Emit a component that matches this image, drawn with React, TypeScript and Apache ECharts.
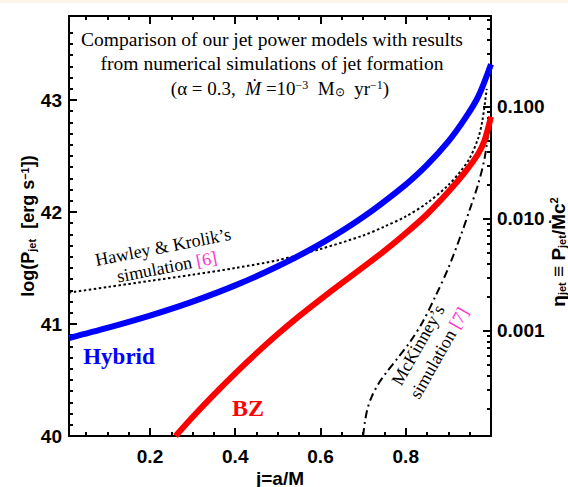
import React, { useEffect, useRef } from "react";
import * as echarts from "echarts";

// ---- axis ranges ----
const X_MIN = 0.01;
const X_MAX = 1.0;
const Y_MIN = 40;
const Y_MAX = 43.75;
const ETA_OFFSET = 43.94; // log(eta) = log(Pjet) - ETA_OFFSET

// ---- tick values ----
const xMajorTicks = [0.2, 0.4, 0.6, 0.8];
const xMinorTicks = [0.05, 0.1, 0.15, 0.25, 0.3, 0.35, 0.45, 0.5, 0.55, 0.65, 0.7, 0.75, 0.85, 0.9, 0.95];
const yMajorTicks = [40, 41, 42, 43];
const etaMajorTicks = [0.001, 0.01, 0.1];
const etaMinorMultipliers = [2, 3, 4, 5, 6, 7, 8, 9];
const etaDecades = [0.0001, 0.001, 0.01, 0.1];

// ---- series data (spin j, log Pjet) ----
const hybridJ = [0.01, 0.1, 0.2, 0.3, 0.4, 0.5, 0.6, 0.7, 0.8, 0.85, 0.9, 0.94, 0.97, 1.0];
const hybridLogP = [40.875, 40.965, 41.075, 41.2, 41.345, 41.515, 41.715, 41.955, 42.245, 42.42, 42.63, 42.84, 43.03, 43.32];

const bzJ = [0.26, 0.3, 0.35, 0.4, 0.45, 0.5, 0.55, 0.6, 0.65, 0.7, 0.75, 0.8, 0.85, 0.9, 0.94, 0.97, 0.985, 1.0];
const bzLogP = [40.0, 40.17, 40.37, 40.56, 40.74, 40.91, 41.07, 41.22, 41.365, 41.508, 41.653, 41.81, 41.98, 42.18, 42.36, 42.52, 42.64, 42.85];

const hkJ = [0.01, 0.1, 0.2, 0.3, 0.4, 0.5, 0.6, 0.7, 0.75, 0.8, 0.85, 0.9, 0.93, 0.95, 0.97, 0.98, 0.99];
const hkLogP = [41.28, 41.33, 41.385, 41.44, 41.5, 41.57, 41.67, 41.79, 41.87, 41.96, 42.08, 42.24, 42.37, 42.48, 42.66, 42.82, 43.1];

const mcJ = [0.7, 0.704, 0.71, 0.72, 0.735, 0.755, 0.78, 0.81, 0.84, 0.87, 0.9, 0.93, 0.95, 0.97, 0.985, 0.995];
const mcLogP = [40.0, 40.12, 40.24, 40.35, 40.46, 40.57, 40.69, 40.84, 41.02, 41.25, 41.5, 41.8, 42.02, 42.25, 42.48, 42.75];

const zip = (xs: number[], ys: number[]) => xs.map((x, i) => [x, ys[i]]);

const yMinorTicks: number[] = [];
for (let v = 401; v < 437; v++) {
  if (v % 10 !== 0) yMinorTicks.push(v / 10);
}
const etaToLogP = (e: number) => Math.log10(e) + ETA_OFFSET;
const etaMinorTicks: number[] = [];
etaDecades.forEach((d) =>
  etaMinorMultipliers.forEach((m) => {
    const v = etaToLogP(d * m);
    if (v > Y_MIN && v < Y_MAX) etaMinorTicks.push(v);
  })
);

const SANS = "Liberation Sans, Arial, sans-serif";
const SERIF = "Liberation Serif, Times New Roman, serif";
const BLACK = "#000";

function xAxisDef(position: "bottom" | "top", major: boolean) {
  return {
    type: "value",
    position,
    min: X_MIN,
    max: X_MAX,
    axisLine: { show: major, onZero: false, lineStyle: { color: BLACK, width: 2 } },
    axisTick: {
      show: true,
      inside: true,
      length: major ? 8 : 4,
      lineStyle: { color: BLACK, width: 2 },
      customValues: major ? xMajorTicks : xMinorTicks,
    },
    axisLabel: {
      show: major && position === "bottom",
      customValues: xMajorTicks,
      formatter: (v: number) => v.toFixed(1),
      fontSize: 19,
      fontWeight: "bold",
      fontFamily: SANS,
      color: BLACK,
      margin: 11,
    },
    splitLine: { show: false },
  };
}

function yAxisDef(position: "left" | "right", major: boolean) {
  const isLeft = position === "left";
  const ticks = isLeft
    ? major
      ? yMajorTicks
      : yMinorTicks
    : major
    ? etaMajorTicks.map(etaToLogP)
    : etaMinorTicks;
  return {
    type: "value",
    position,
    min: Y_MIN,
    max: Y_MAX,
    axisLine: { show: major, onZero: false, lineStyle: { color: BLACK, width: 2 } },
    axisTick: {
      show: true,
      inside: true,
      length: major ? 8 : 4,
      lineStyle: { color: BLACK, width: 2 },
      customValues: ticks,
    },
    axisLabel: {
      show: major,
      customValues: ticks,
      formatter: isLeft
        ? (v: number) => String(Math.round(v))
        : (v: number) => Math.pow(10, v - ETA_OFFSET).toFixed(3),
      fontSize: 19,
      fontWeight: "bold",
      fontFamily: SANS,
      color: BLACK,
      margin: isLeft ? 7 : 6,
    },
    splitLine: { show: false },
  };
}

function text(
  x: number,
  y: number,
  str: string,
  opts: { size: number; family: string; weight?: string; fill?: string; rotation?: number; rich?: any }
) {
  return {
    type: "text",
    x,
    y,
    rotation: opts.rotation || 0,
    z: 100,
    style: {
      text: str,
      fontSize: opts.size,
      fontFamily: opts.family,
      fontWeight: opts.weight || "normal",
      fill: opts.fill || BLACK,
      align: "center",
      verticalAlign: "middle",
      textAlign: "center",
      textVerticalAlign: "middle",
      rich: opts.rich,
    },
  };
}

export default function App() {
  const ref = useRef<HTMLDivElement>(null);

  useEffect(() => {
    if (!ref.current) return;
    const chart = echarts.init(ref.current, null, { renderer: "svg" });

    const serifRich = {
      i: { fontSize: 19, fontFamily: SERIF, fontStyle: "italic", fill: BLACK },
      sup: { fontSize: 12, fontFamily: SERIF, fill: BLACK, verticalAlign: "top" },
      sub: { fontSize: 12, fontFamily: SERIF, fill: BLACK, verticalAlign: "bottom" },
    };
    const magentaRich = { m: { fontSize: 18, fontFamily: SERIF, fill: "#ff33cc" } };
    const sansRich = {
      sub: { fontSize: 11, fontFamily: SANS, fontWeight: "bold", fill: BLACK, verticalAlign: "bottom" },
      sup: { fontSize: 11, fontFamily: SANS, fontWeight: "bold", fill: BLACK, verticalAlign: "top" },
    };

    const lineSeries = (name: string, xs: number[], ys: number[], lineStyle: any, z: number) => ({
      type: "line",
      name,
      data: zip(xs, ys),
      showSymbol: false,
      smooth: 0.3,
      lineStyle,
      z,
    });

    chart.setOption({
      animation: false,
      backgroundColor: "#ffffff",
      grid: { left: 69, right: 77, top: 16, bottom: 51, outerBoundsMode: "none", containLabel: false },
      xAxis: [xAxisDef("bottom", true), xAxisDef("bottom", false), xAxisDef("top", true), xAxisDef("top", false)],
      yAxis: [yAxisDef("left", true), yAxisDef("left", false), yAxisDef("right", true), yAxisDef("right", false)],
      series: [
        lineSeries("Hybrid", hybridJ, hybridLogP, { color: "#0000ff", width: 6 }, 5),
        lineSeries("BZ", bzJ, bzLogP, { color: "#ff0000", width: 6 }, 5),
        lineSeries("Hawley & Krolik", hkJ, hkLogP, { color: BLACK, width: 2, type: [2.5, 2.5] }, 4),
        lineSeries("McKinney", mcJ, mcLogP, { color: BLACK, width: 2, type: [8, 4, 2, 4] }, 4),
      ],
      graphic: [
        { type: "rect", shape: { x: 0, y: 0, width: 568, height: 3 }, style: { fill: "#fdf5ec" }, z: 0 },
        text(272, 39, "Comparison of our jet power models with results", { size: 19.5, family: SERIF }),
        text(272, 63, "from numerical simulations of jet formation", { size: 19.5, family: SERIF }),
        text(280, 88, "(α = 0.3,  {i|Ṁ} =10{sup|−3}  M{sub|⊙}  yr{sup|−1})", {
          size: 19,
          family: SERIF,
          rich: serifRich,
        }),
        text(163, 247, "Hawley & Krolik’s", { size: 18, family: SERIF, rotation: 0.192 }),
        text(167, 267, "simulation {m|[6]}", { size: 18, family: SERIF, rotation: 0.192, rich: magentaRich }),
        text(418, 345, "McKinney’s", { size: 18, family: SERIF, rotation: 1.056 }),
        text(439, 353, "simulation {m|[7]}", { size: 18, family: SERIF, rotation: 1.056, rich: magentaRich }),
        text(119, 356, "Hybrid", { size: 23, family: SERIF, weight: "bold", fill: "#0000ff" }),
        text(248, 408, "BZ", { size: 24, family: SERIF, weight: "bold", fill: "#ff0000" }),
        text(280, 478, "j=a/M", { size: 19, family: SANS, weight: "bold" }),
        text(28, 226, "log(P{sub|jet}  [erg s{sup|−1}])", {
          size: 18,
          family: SANS,
          weight: "bold",
          rotation: Math.PI / 2,
          rich: sansRich,
        }),
        text(558, 252, "η{sub|jet} ≡ P{sub|jet}/Ṁc{sup|2}", {
          size: 19,
          family: SANS,
          weight: "bold",
          rotation: Math.PI / 2,
          rich: sansRich,
        }),
      ],
    });

    return () => chart.dispose();
  }, []);

  return (
    <div
      ref={ref}
      style={{ position: "absolute", left: 0, top: 0, width: 568, height: 487, background: "#fff" }}
    />
  );
}
